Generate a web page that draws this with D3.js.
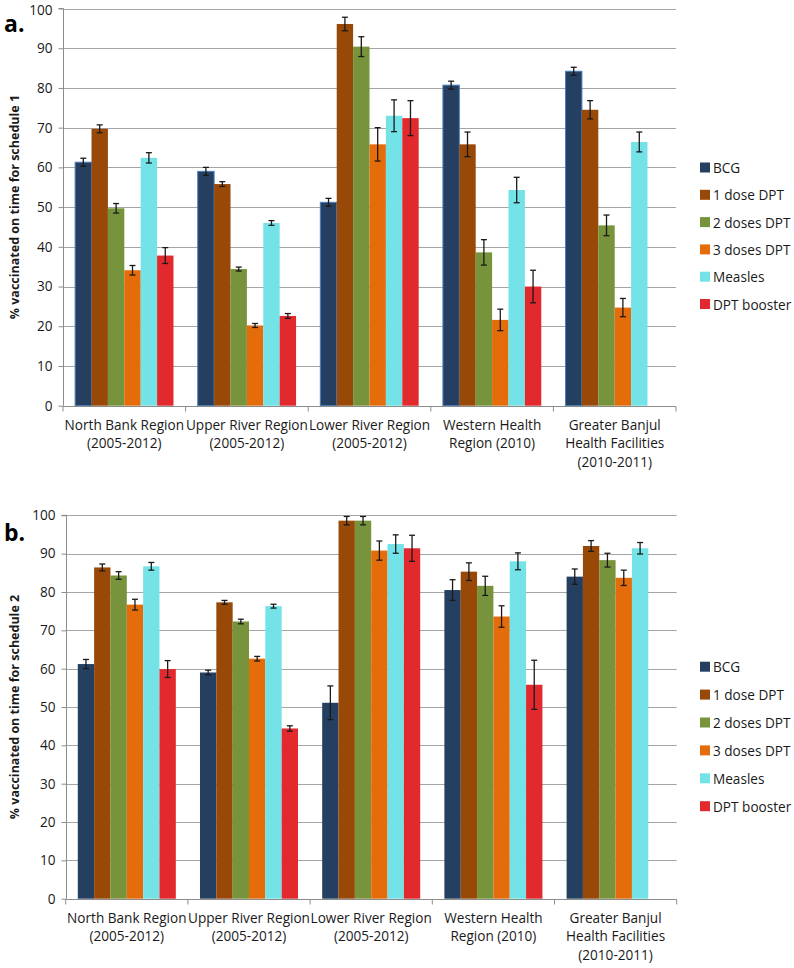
<!DOCTYPE html>
<html><head><meta charset="utf-8">
<script src="https://cdn.jsdelivr.net/npm/d3@7"></script>
<style>body{margin:0;background:#fff}svg{display:block}</style>
</head><body>
<script>
const categories = [
  ["North Bank Region","(2005-2012)"],
  ["Upper River Region","(2005-2012)"],
  ["Lower River Region","(2005-2012)"],
  ["Western Health","Region (2010)"],
  ["Greater Banjul","Health Facilities","(2010-2011)"]
];
const series = ["BCG","1 dose DPT","2 doses DPT","3 doses DPT","Measles","DPT booster"];
const colors = ["#253F60","#984807","#77933C","#E46C0A","#74E3E8","#E2292E"];
const yTicks = [0,10,20,30,40,50,60,70,80,90,100];

// Schedule 1 values (per series, across categories)
const s1_bcg     = [61.3, 59.0, 51.2, 80.7, 84.2];
const s1_dose1   = [69.7, 55.8, 96.1, 65.8, 74.5];
const s1_dose2   = [49.7, 34.4, 90.4, 38.6, 45.4];
const s1_dose3   = [34.1, 20.2, 65.8, 21.6, 24.7];
const s1_measles = [62.4, 46.0, 73.0, 54.3, 66.4];
const s1_booster = [37.8, 22.6, 72.4, 30.0, null];
// Schedule 1 error (+/-)
const s1e_bcg     = [1.0, 1.0, 1.0, 1.0, 1.0];
const s1e_dose1   = [1.0, 0.6, 1.7, 3.1, 2.3];
const s1e_dose2   = [1.2, 0.5, 2.5, 3.2, 2.6];
const s1e_dose3   = [1.2, 0.5, 4.2, 2.7, 2.3];
const s1e_measles = [1.3, 0.6, 4.0, 3.2, 2.5];
const s1e_booster = [2.0, 0.6, 4.4, 4.1, null];

// Schedule 2 values
const s2_bcg     = [61.2, 59.0, 51.1, 80.5, 84.0];
const s2_dose1   = [86.4, 77.3, 98.6, 85.3, 92.0];
const s2_dose2   = [84.3, 72.3, 98.6, 81.6, 88.3];
const s2_dose3   = [76.7, 62.6, 90.8, 73.6, 83.7];
const s2_measles = [86.7, 76.3, 92.5, 88.0, 91.4];
const s2_booster = [59.9, 44.4, 91.4, 55.8, null];
// Schedule 2 error (+/-)
const s2e_bcg     = [1.2, 0.6, 4.4, 2.7, 2.0];
const s2e_dose1   = [0.9, 0.5, 1.1, 2.3, 1.4];
const s2e_dose2   = [1.0, 0.6, 1.1, 2.5, 1.8];
const s2e_dose3   = [1.4, 0.6, 2.5, 2.8, 2.0];
const s2e_measles = [1.0, 0.5, 2.4, 2.2, 1.5];
const s2e_booster = [2.2, 0.7, 3.4, 6.4, null];

const W = 794, H = 968;
const svg = d3.select("body").append("svg").attr("width", W).attr("height", H);
svg.append("rect").attr("width", W).attr("height", H).attr("fill", "#fff");

const FONT = "'Open Sans', 'DejaVu Sans', sans-serif";

function drawChart(cfg) {
  const vals = cfg.values, errs = cfg.errors;
  const g = svg.append("g");
  const x = d3.scaleBand().domain(d3.range(categories.length)).range([cfg.x0, cfg.x1]).paddingInner(0).paddingOuter(0);
  const xs = d3.scaleBand().domain(d3.range(series.length)).range([0, x.bandwidth()]).paddingInner(0).paddingOuter(0.74);
  const y = d3.scaleLinear().domain([0, 100]).range([cfg.yBottom, cfg.yTop]);

  // gridlines
  g.append("g").selectAll("line").data(yTicks.filter(t => t > 0)).join("line")
    .attr("x1", cfg.x0).attr("x2", cfg.x1)
    .attr("y1", d => Math.round(y(d)) + 0.5).attr("y2", d => Math.round(y(d)) + 0.5)
    .attr("stroke", "#a5a5a5").attr("stroke-width", 1);

  // y axis
  const yAxis = d3.axisLeft(y).tickValues(yTicks).tickSize(5).tickPadding(6).tickFormat(d3.format("d"));
  const ya = g.append("g").attr("transform", `translate(${Math.round(cfg.x0) + 0.5},0)`).call(yAxis);
  ya.select(".domain").attr("stroke", "#8c8c8c").attr("d", `M-5,${y(100)}H0V${y(0)}`);
  ya.selectAll(".tick line").attr("stroke", "#8c8c8c");
  ya.selectAll(".tick text").attr("font-family", FONT).attr("font-size", "13.6px").attr("fill", "#1a1a1a")
    .attr("dy", d => (cfg.yTop < 12 && d === 100) ? "0.45em" : "0.32em");

  // bars
  series.forEach((s, si) => {
    const data = vals[si].map((v, ci) => ({v, ci, e: errs[si][ci]})).filter(d => d.v != null);
    g.append("g").selectAll("rect").data(data).join("rect")
      .attr("x", d => x(d.ci) + xs(si))
      .attr("width", xs.bandwidth())
      .attr("y", d => y(d.v))
      .attr("height", d => y(0) - y(d.v))
      .attr("fill", colors[si])
      .attr("stroke", (cfg.outlineBCG && si === 0) ? "#4a7ebb" : "none")
      .attr("stroke-width", 1);
  });

  // x axis line with category separators
  const xa = g.append("g").attr("transform", `translate(0,${Math.round(y(0)) + 0.5})`);
  xa.append("line").attr("x1", cfg.x0).attr("x2", cfg.x1).attr("stroke", "#8c8c8c");
  xa.selectAll("line.sep").data(d3.range(categories.length + 1)).join("line").attr("class", "sep")
    .attr("x1", i => (i < categories.length ? x(i) : cfg.x1)).attr("x2", i => (i < categories.length ? x(i) : cfg.x1))
    .attr("y1", 0).attr("y2", 5).attr("stroke", "#8c8c8c");
  // category labels
  categories.forEach((lines, ci) => {
    const t = g.append("text").attr("text-anchor", "middle")
      .attr("font-family", FONT).attr("font-size", "13.6px").attr("fill", "#1a1a1a");
    lines.forEach((ln, li) => {
      t.append("tspan").attr("x", x(ci) + x.bandwidth() / 2).attr("y", y(0) + 24 + li * 18.5).text(ln);
    });
  });

  // error bars
  series.forEach((s, si) => {
    const data = vals[si].map((v, ci) => ({v, ci, e: errs[si][ci]})).filter(d => d.v != null && d.e != null);
    const eg = g.append("g").attr("stroke", "#1a1a1a").attr("stroke-width", 1.3);
    data.forEach(d => {
      const cx = x(d.ci) + xs(si) + xs.bandwidth() / 2;
      const yt = y(d.v + d.e), yb = y(d.v - d.e);
      eg.append("line").attr("x1", cx).attr("x2", cx).attr("y1", yt).attr("y2", yb);
      eg.append("line").attr("x1", cx - 3).attr("x2", cx + 3).attr("y1", yt).attr("y2", yt);
      eg.append("line").attr("x1", cx - 3).attr("x2", cx + 3).attr("y1", yb).attr("y2", yb);
    });
  });

  // y title
  g.append("text")
    .attr("transform", `translate(${cfg.titleX},${(y(0) + y(100)) / 2}) rotate(-90)`)
    .attr("text-anchor", "middle").attr("dominant-baseline", "central")
    .attr("font-family", FONT).attr("font-weight", "bold").attr("font-size", "12.5px").attr("fill", "#1a1a1a")
    .text(cfg.title);

  // panel label
  g.append("text").attr("x", 4).attr("y", cfg.labelY)
    .attr("font-family", FONT).attr("font-weight", "bold").attr("font-size", "23px").attr("fill", "#000")
    .text(cfg.label);

  // legend
  const lg = g.append("g");
  series.forEach((s, si) => {
    const ly = cfg.legendY + si * cfg.legendStep;
    lg.append("rect").attr("x", 700).attr("y", ly - 5).attr("width", 10).attr("height", 10)
      .attr("fill", colors[si]);
    lg.append("text").attr("x", 713).attr("y", ly).attr("dominant-baseline", "central")
      .attr("font-family", FONT).attr("font-size", "13.6px").attr("fill", "#1a1a1a").text(s);
  });
}

drawChart({
  values: [s1_bcg, s1_dose1, s1_dose2, s1_dose3, s1_measles, s1_booster],
  errors: [s1e_bcg, s1e_dose1, s1e_dose2, s1e_dose3, s1e_measles, s1e_booster],
  x0: 63, x1: 676, yTop: 8.5, yBottom: 405.7,
  title: "% vaccinated on time for schedule 1", titleX: 14,
  label: "a.", labelY: 32, legendY: 167.5, legendStep: 27.3, outlineBCG: true
});
drawChart({
  values: [s2_bcg, s2_dose1, s2_dose2, s2_dose3, s2_measles, s2_booster],
  errors: [s2e_bcg, s2e_dose1, s2e_dose2, s2e_dose3, s2e_measles, s2e_booster],
  x0: 65.7, x1: 676.7, yTop: 515.3, yBottom: 898.7,
  title: "% vaccinated on time for schedule 2", titleX: 14,
  label: "b.", labelY: 541, legendY: 666.7, legendStep: 27.9, outlineBCG: false
});
</script>
</body></html>
